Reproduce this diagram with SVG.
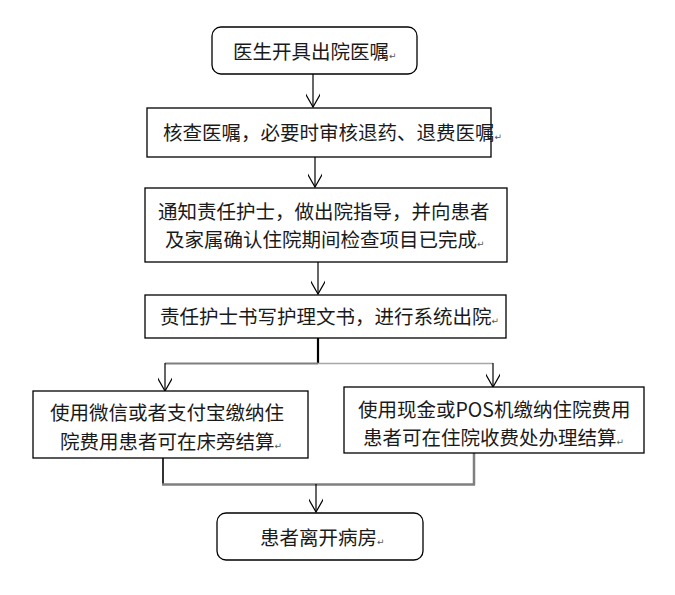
<svg xmlns="http://www.w3.org/2000/svg" width="675" height="595" viewBox="0 0 675 595">
<style>
.box{fill:#fff;stroke:#000;stroke-width:1.3}
.t{font-family:"Noto Sans CJK SC","Noto Sans",sans-serif;font-size:19.5px;fill:#1a1a1a}
.pm{font-family:"DejaVu Sans",sans-serif;font-size:9px;fill:#555}
.c{fill:none;stroke:#000;stroke-width:1.2}
.g{fill:none;stroke:#7f7f7f;stroke-width:2}
.k{fill:none;stroke:#000;stroke-width:2.2}
</style>
<defs>
<marker id="ah" markerWidth="18" markerHeight="14" refX="16" refY="7" orient="auto" markerUnits="userSpaceOnUse">
<path d="M2,-1 L16,7 L2,15" fill="none" stroke="#000" stroke-width="1.2"/>
</marker>
</defs>
<rect width="675" height="595" fill="#fff"/>
<g id="connectors">
<line class="c" x1="313" y1="74" x2="313" y2="107" marker-end="url(#ah)"/>
<line class="c" x1="315" y1="157" x2="315" y2="187" marker-end="url(#ah)"/>
<line class="c" x1="318" y1="262" x2="318" y2="294" marker-end="url(#ah)"/>
<line class="k" x1="318" y1="338" x2="318" y2="364"/>
<polyline class="g" points="318,363.5 165,363.5"/>
<polyline class="g" style="stroke:#a8a8a8;stroke-width:1.5" points="318,363.5 493,363.5"/>
<line class="c" x1="165" y1="363" x2="165" y2="391" marker-end="url(#ah)"/>
<line class="c" x1="493" y1="363" x2="493" y2="387" marker-end="url(#ah)"/>
<line class="k" style="stroke-width:1.6" x1="163" y1="458" x2="163" y2="485"/>
<line class="g" style="stroke-width:2.5" x1="474" y1="452" x2="474" y2="485"/>
<line class="g" style="stroke-width:2.5" x1="162" y1="484.5" x2="475" y2="484.5"/>
<line class="c" x1="316" y1="484" x2="316" y2="512" marker-end="url(#ah)"/>
</g>
<g id="n1">
<rect class="box" x="212" y="27" width="205" height="47" rx="9"/>
<text class="t" x="233" y="59">医生开具出院医嘱<tspan class="pm">↵</tspan></text>
</g>
<g id="n2">
<rect class="box" x="147" y="108" width="344" height="49"/>
<text class="t" x="163" y="140">核查医嘱，必要时审核退药、退费医嘱<tspan class="pm">↵</tspan></text>
</g>
<g id="n3">
<rect class="box" x="145" y="188" width="362" height="74"/>
<text class="t" x="158" y="219">通知责任护士，做出院指导，并向患者</text>
<text class="t" x="165" y="247">及家属确认住院期间检查项目已完成<tspan class="pm">↵</tspan></text>
</g>
<g id="n4">
<rect class="box" x="145" y="295" width="361" height="43"/>
<text class="t" x="160" y="324">责任护士书写护理文书，进行系统出院<tspan class="pm">↵</tspan></text>
</g>
<g id="n5">
<rect class="box" x="33" y="391" width="275" height="67"/>
<text class="t" x="50" y="420">使用微信或者支付宝缴纳住</text>
<text class="t" x="60" y="449">院费用患者可在床旁结算<tspan class="pm">↵</tspan></text>
</g>
<g id="n6">
<rect class="box" x="344" y="387" width="300" height="66"/>
<text class="t" x="358" y="417">使用现金或POS机缴纳住院费用</text>
<text class="t" x="363" y="445">患者可在住院收费处办理结算<tspan class="pm">↵</tspan></text>
</g>
<g id="n7">
<rect class="box" x="217" y="513" width="206" height="47" rx="9"/>
<text class="t" x="260" y="545">患者离开病房<tspan class="pm">↵</tspan></text>
</g>
</svg>
